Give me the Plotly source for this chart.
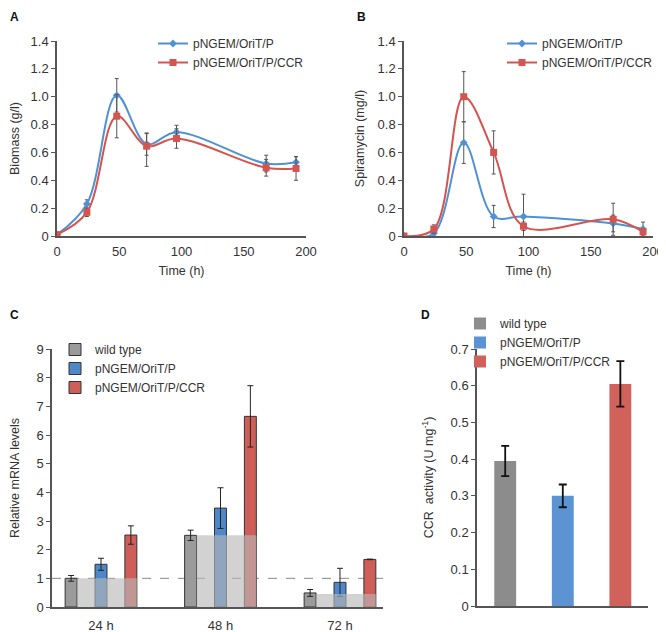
import plotly.graph_objects as go

# ---------------- data ----------------
time_h = [0, 24, 48, 72, 96, 168, 192]
time_ticks = [0, 50, 100, 150, 200]

biomass_p = [0.01, 0.23, 1.01, 0.66, 0.745, 0.52, 0.53]
biomass_p_err = [0.0, 0.03, 0.12, 0.08, 0.05, 0.06, 0.04]
biomass_ccr = [0.01, 0.17, 0.86, 0.645, 0.70, 0.49, 0.485]
biomass_ccr_err_plus = [0.0, 0.03, 0.155, 0.09, 0.07, 0.06, 0.085]
biomass_ccr_err_minus = [0.0, 0.03, 0.155, 0.145, 0.07, 0.06, 0.085]

spira_p = [0.0, 0.02, 0.67, 0.14, 0.14, 0.09, 0.05]
spira_p_err = [0.0, 0.02, 0.15, 0.08, 0.16, 0.06, 0.05]
spira_ccr = [0.0, 0.05, 1.0, 0.60, 0.07, 0.12, 0.03]
spira_ccr_err = [0.0, 0.03, 0.18, 0.155, 0.03, 0.115, 0.02]

ab_yticks = [0, 0.2, 0.4, 0.6, 0.8, 1.0, 1.2, 1.4]
ab_yticktext = ["0", "0.2", "0.4", "0.6", "0.8", "1.0", "1.2", "1.4"]

mrna_times = ["24 h", "48 h", "72 h"]
mrna_wt = [1.0, 2.5, 0.49]
mrna_wt_err = [0.1, 0.18, 0.12]
mrna_p = [1.49, 3.45, 0.86]
mrna_p_err = [0.21, 0.71, 0.49]
mrna_ccr = [2.51, 6.65, 1.66]
mrna_ccr_err = [0.32, 1.07, 0.01]
mrna_wt_baseline = [1.0, 2.5, 0.45]
reference_level = 1.0

strains = ["wild type", "pNGEM/OriT/P", "pNGEM/OriT/P/CCR"]
ccr_activity = [0.395, 0.30, 0.605]
ccr_activity_err = [0.041, 0.031, 0.062]
d_yticks = [0, 0.1, 0.2, 0.3, 0.4, 0.5, 0.6, 0.7]
d_yticktext = ["0", "0.1", "0.2", "0.3", "0.4", "0.5", "0.6", "0.7"]

# ---------------- style ----------------
FONT = "Liberation Sans, Arial, Helvetica, sans-serif"
BLUE_LINE = "rgb(80,145,212)"
RED_LINE = "rgb(212,84,80)"
GRAY_BAR = "rgb(155,155,155)"
BLUE_BAR = "rgb(78,136,200)"
RED_BAR = "rgb(208,94,88)"
D_GRAY = "rgb(140,140,140)"
D_BLUE = "rgb(91,147,211)"
D_RED = "rgb(209,98,91)"
AXIS = "#555555"
TXT = "#333333"

fig = go.Figure()

def err(arr, minus=None, color="#555555", thick=1, width=2):
    d = dict(type="data", array=arr, color=color, thickness=thick, width=width, visible=True)
    if minus is not None:
        d["symmetric"] = False
        d["arrayminus"] = minus
    return d

# Panel A
fig.add_trace(go.Scatter(x=time_h, y=biomass_p, mode="lines+markers", name="pNGEM/OriT/P",
                         line=dict(color=BLUE_LINE, width=2, shape="spline", smoothing=1.0),
                         marker=dict(symbol="diamond", size=6, color=BLUE_LINE),
                         error_y=err(biomass_p_err), xaxis="x", yaxis="y", legend="legend"))
fig.add_trace(go.Scatter(x=time_h, y=biomass_ccr, mode="lines+markers", name="pNGEM/OriT/P/CCR",
                         line=dict(color=RED_LINE, width=2, shape="spline", smoothing=1.0),
                         marker=dict(symbol="square", size=7, color=RED_LINE),
                         error_y=err(biomass_ccr_err_plus, biomass_ccr_err_minus), xaxis="x", yaxis="y", legend="legend"))

# Panel B
fig.add_trace(go.Scatter(x=time_h, y=spira_p, mode="lines+markers", name="pNGEM/OriT/P",
                         line=dict(color=BLUE_LINE, width=2, shape="spline", smoothing=1.0),
                         marker=dict(symbol="diamond", size=6, color=BLUE_LINE),
                         error_y=err(spira_p_err), xaxis="x2", yaxis="y2", legend="legend2"))
fig.add_trace(go.Scatter(x=time_h, y=spira_ccr, mode="lines+markers", name="pNGEM/OriT/P/CCR",
                         line=dict(color=RED_LINE, width=2, shape="spline", smoothing=1.0),
                         marker=dict(symbol="square", size=7, color=RED_LINE),
                         error_y=err(spira_ccr_err), xaxis="x2", yaxis="y2", legend="legend2"))

# Panel C
bw = 0.1
for vals, errs, color, name, off in [
    (mrna_wt, mrna_wt_err, GRAY_BAR, "wild type", -0.30),
    (mrna_p, mrna_p_err, BLUE_BAR, "pNGEM/OriT/P", -0.05),
    (mrna_ccr, mrna_ccr_err, RED_BAR, "pNGEM/OriT/P/CCR", 0.20),
]:
    fig.add_trace(go.Bar(x=mrna_times, y=vals, width=bw, offset=off, name=name,
                         marker=dict(color=color, line=dict(color="#333333", width=1)),
                         error_y=err(errs, color="#222222", thick=1, width=3),
                         xaxis="x3", yaxis="y3", legend="legend3"))
fig.add_trace(go.Bar(x=mrna_times, y=mrna_wt_baseline, width=0.5, offset=-0.20,
                     marker=dict(color="rgba(183,183,183,0.63)", line=dict(width=0)),
                     showlegend=False, hoverinfo="skip", xaxis="x3", yaxis="y3"))

# Panel D
for i, (s, c) in enumerate(zip(strains, [D_GRAY, D_BLUE, D_RED])):
    fig.add_trace(go.Bar(x=[s], y=[ccr_activity[i]], width=0.38, name=s,
                         marker=dict(color=c, line=dict(width=0)),
                         error_y=err([ccr_activity_err[i]], color="#111111", thick=1.8, width=4),
                         xaxis="x4", yaxis="y4", legend="legend4"))

# The page places the figure 8px from the window's top-left corner.
OFF = 8
W, H = 666 - OFF, 632 - OFF
def sx(px):
    return (px - OFF) / W
def sy(py):
    return 1 - (py - OFF) / H
def px_x(a, b):
    return [sx(a), sx(b)]
def px_y(top, bottom):
    return [sy(bottom), sy(top)]

tickfont = dict(family=FONT, size=13, color=TXT)
titlefont = dict(family=FONT, size=12.5, color=TXT)
base_x = dict(showline=True, linecolor=AXIS, linewidth=1.5, showgrid=False, zeroline=False,
              ticks="", tickfont=tickfont, automargin=False)
base_y = dict(showline=True, linecolor=AXIS, linewidth=1.5, showgrid=False, zeroline=False,
              ticks="outside", ticklen=4, tickcolor=AXIS, tickwidth=1, tickfont=tickfont,
              automargin=False)
legfont = dict(family=FONT, size=12, color=TXT)
labfont = dict(family=FONT, size=12, color="#111")

layout = dict(
    width=W, height=H, margin=dict(l=0, r=0, t=0, b=0),
    paper_bgcolor="white", plot_bgcolor="white",
    font=dict(family=FONT, size=12, color=TXT),
    barmode="overlay",
    xaxis=dict(base_x, domain=px_x(57, 306), range=[0, 200], tickvals=time_ticks,
               ticks="outside", ticklen=3, tickcolor="rgba(0,0,0,0)",
               title=dict(text="Time (h)", font=titlefont, standoff=8), anchor="y"),
    yaxis=dict(base_y, domain=px_y(41, 236), range=[0, 1.4], tickvals=ab_yticks, ticktext=ab_yticktext,
               title=dict(text="Biomass (g/l)", font=titlefont, standoff=10), anchor="x"),
    xaxis2=dict(base_x, domain=px_x(404, 653), range=[0, 200], tickvals=time_ticks,
                ticks="outside", ticklen=3, tickcolor="rgba(0,0,0,0)",
                title=dict(text="Time (h)", font=titlefont, standoff=8), anchor="y2"),
    yaxis2=dict(base_y, domain=px_y(41, 236), range=[0, 1.4], tickvals=ab_yticks, ticktext=ab_yticktext,
                title=dict(text="Spiramycin (mg/l)", font=titlefont, standoff=10), anchor="x2"),
    xaxis3=dict(base_x, domain=px_x(52, 383), range=[-0.41, 2.36], type="category", anchor="y3",
                ticks="outside", ticklen=6, tickcolor="rgba(0,0,0,0)"),
    yaxis3=dict(base_y, domain=px_y(349, 607), range=[0, 9], dtick=1,
                title=dict(text="Relative mRNA levels", font=titlefont, standoff=19), anchor="x3"),
    xaxis4=dict(base_x, domain=px_x(477, 648), range=[-0.49, 2.48], type="category",
                showticklabels=False, anchor="y4"),
    yaxis4=dict(base_y, domain=px_y(349, 606), range=[0, 0.7], tickvals=d_yticks, ticktext=d_yticktext,
                title=dict(text="CCR  activity (U mg<sup>-1</sup>)", font=titlefont, standoff=14), anchor="x4"),
    legend=dict(x=sx(153), y=sy(29), xanchor="left", yanchor="top", itemwidth=30,
                bgcolor="rgba(0,0,0,0)", font=legfont),
    legend2=dict(x=sx(502), y=sy(29), xanchor="left", yanchor="top", itemwidth=30,
                 bgcolor="rgba(0,0,0,0)", font=legfont),
    legend3=dict(x=sx(55), y=sy(335), xanchor="left", yanchor="top", itemwidth=30,
                 bgcolor="rgba(0,0,0,0)", font=legfont),
    legend4=dict(x=sx(460), y=sy(309), xanchor="left", yanchor="top", itemwidth=30,
                 bgcolor="rgba(0,0,0,0)", font=legfont),
    shapes=[dict(type="line", xref="x3 domain", yref="y3", x0=0, x1=1,
                 y0=reference_level, y1=reference_level, layer="below",
                 line=dict(color="#888888", width=1, dash="dash"))],
    annotations=[
        dict(text="<b>A</b>", x=sx(8), y=sy(8), xref="paper", yref="paper",
             xanchor="left", yanchor="top", showarrow=False, font=labfont),
        dict(text="<b>B</b>", x=sx(355), y=sy(8), xref="paper", yref="paper",
             xanchor="left", yanchor="top", showarrow=False, font=labfont),
        dict(text="<b>C</b>", x=sx(8), y=sy(315), xref="paper", yref="paper",
             xanchor="left", yanchor="middle", showarrow=False, font=labfont),
        dict(text="<b>D</b>", x=sx(419), y=sy(315), xref="paper", yref="paper",
             xanchor="left", yanchor="middle", showarrow=False, font=labfont),
    ],
)
fig.update_layout(**layout)
fig.write_html("out.html")
